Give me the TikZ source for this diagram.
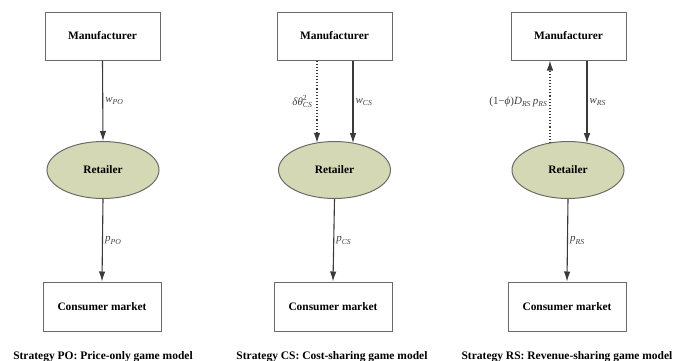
\documentclass[tikz,border=0pt]{standalone}
\usepackage{amsmath}
\usepackage{fontspec}
\setmainfont{Liberation Serif}
\usetikzlibrary{arrows.meta,shapes.geometric,calc}
\definecolor{retfill}{HTML}{D5D8B4}
\definecolor{edgegray}{HTML}{6A6A6A}
\definecolor{arrgray}{HTML}{3A3A3A}
\begin{document}
\begin{tikzpicture}[x=1pt,y=-1pt,
  box/.style={draw=edgegray,line width=1pt,fill=white,minimum width=115pt,minimum height=48pt,inner sep=0pt,font=\fontsize{11.4}{13}\selectfont\bfseries},
  ret/.style={ellipse,draw=edgegray,line width=1pt,fill=retfill,minimum width=112pt,minimum height=57pt,inner sep=0pt,font=\fontsize{11.4}{13}\selectfont\bfseries},
  arr/.style={draw=arrgray,line width=1.1pt,-{Latex[length=10pt,width=6.5pt]}},
  dotarr/.style={arr,dotted},
  lab/.style={font=\fontsize{11}{13}\selectfont,text=black!75,inner sep=2pt},
  captext/.style={font=\fontsize{11.5}{13}\selectfont\bfseries,anchor=base,inner sep=0pt}]
\useasboundingbox (0,0) rectangle (673,360);
% Panel 1
\node[box] (m1) at (102.5,36) {Manufacturer};
\node[ret] (r1) at (103,170) {Retailer};
\node[box,minimum width=118pt,minimum height=49pt] (c1) at (102,306.5) {Consumer market};
\draw[arr] (m1.south) -- node[lab,right,pos=0.5] {$\textit{w}_{\textit{PO}}$} (r1.north);
\draw[arr] (r1.south) -- node[lab,right,pos=0.5] {$\textit{p}_{\textit{PO}}$} (c1.north);
\node[captext] (t1) at (103,359) {Strategy PO: Price-only game model};
% Panel 2
\node[box] (m2) at (334.5,36) {Manufacturer};
\node[ret] (r2) at (334.5,170) {Retailer};
\node[box,minimum width=118pt,minimum height=49pt] (c2) at (333,306.5) {Consumer market};
\draw[dotarr] ($(m2.south)+(-17.5,0)$) -- node[lab,left,pos=0.5,xshift=-2pt] {$\textit{δθ}^{\text{2}}_{\textit{CS}}$} ($(r2.center)+(-17.5,-27.2)$);
\draw[arr] ($(m2.south)+(18.5,0)$) -- node[lab,right,pos=0.5] {$\textit{w}_{\textit{CS}}$} ($(r2.center)+(18.5,-26.9)$);
\draw[arr] (r2.south) -- node[lab,right,pos=0.5] {$\textit{p}_{\textit{CS}}$} (c2.north);
\node[captext] (t2) at (332,359) {Strategy CS: Cost-sharing game model};
% Panel 3
\node[box] (m3) at (568.5,36) {Manufacturer};
\node[ret] (r3) at (568,170) {Retailer};
\node[box,minimum width=118pt,minimum height=49pt] (c3) at (567,306.5) {Consumer market};
\draw[dotarr] ($(r3.center)+(-18,-27)$) -- node[lab,left,pos=0.5] {(1−\textit{ϕ})\textit{D}\textsubscript{\textit{RS}}\,\textit{p}\textsubscript{\textit{RS}}} ($(m3.south)+(-18.5,0)$);
\draw[arr] ($(m3.south)+(18.5,0)$) -- node[lab,right,pos=0.5] {$\textit{w}_{\textit{RS}}$} ($(r3.center)+(19,-26.8)$);
\draw[arr] (r3.south) -- node[lab,right,pos=0.5] {$\textit{p}_{\textit{RS}}$} (c3.north);
\node[captext] (t3) at (567,359) {Strategy RS: Revenue-sharing game model};
\end{tikzpicture}
\end{document}
